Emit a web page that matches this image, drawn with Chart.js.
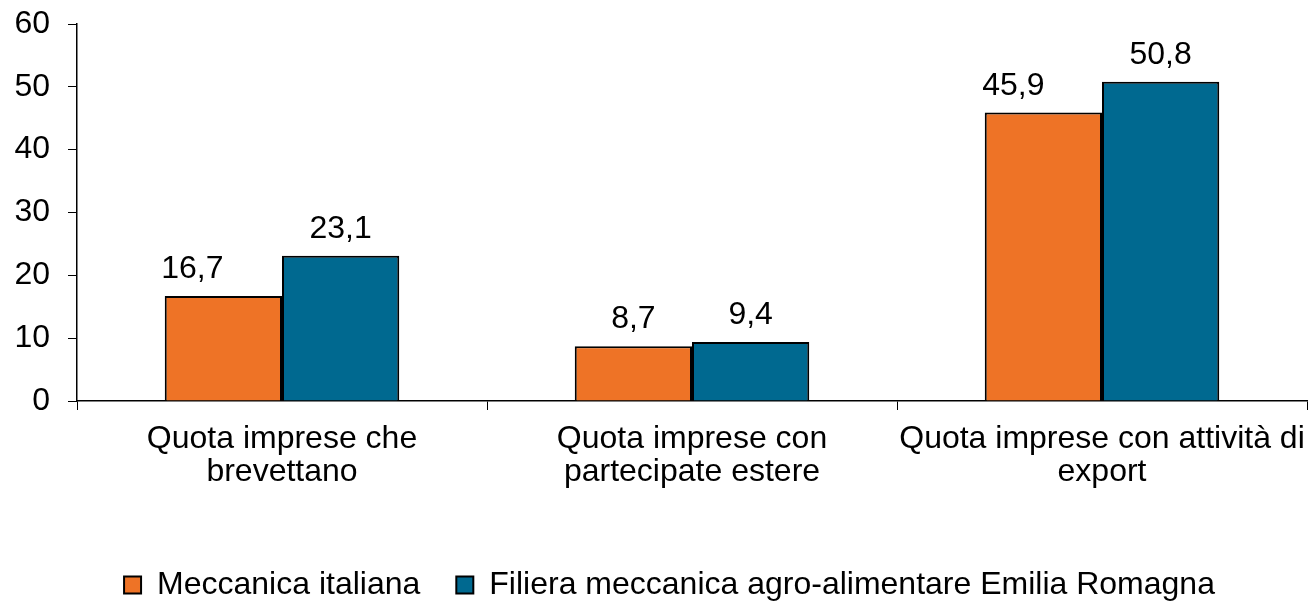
<!DOCTYPE html>
<html><head><meta charset="utf-8">
<script src="https://cdn.jsdelivr.net/npm/chart.js@4/dist/chart.umd.min.js"></script>
<style>html,body{margin:0;padding:0;background:#fff}#w{width:1308px;height:605px}</style>
</head><body><div id="w"><canvas id="c"></canvas></div>
<script>
const categories = [["Quota imprese che","brevettano"],["Quota imprese con","partecipate estere"],["Quota imprese con attività di","export"]];
const seriesNames = ["Meccanica italiana","Filiera meccanica agro-alimentare Emilia Romagna"];
const meccanicaItaliana = [16.7, 8.7, 45.9];
const filieraER = [23.1, 9.4, 50.8];
const yTicks = [0,10,20,30,40,50,60];

const FONT = "'Liberation Sans', Arial, sans-serif";
Chart.defaults.font.family = FONT;
Chart.defaults.color = '#000';

const labelsPlugin = {
  id:'vals',
  afterLayout(chart){
    if(chart.legend){ chart.legend.left += 16; chart.legend.right += 16; }
  },
  afterDatasetsDraw(chart, args, opts){
    const ctx = chart.ctx;
    const shifts = (opts && opts.shifts) || {};
    ctx.save();
    ctx.font = "32px " + FONT;
    ctx.fillStyle = '#000';
    ctx.textAlign = 'center';
    ctx.textBaseline = 'alphabetic';
    chart.data.datasets.forEach((ds,i)=>{
      chart.getDatasetMeta(i).data.forEach((bar,j)=>{
        const dx = (shifts[i] && shifts[i][j]) || 0;
        ctx.fillText(String(ds.data[j]).replace('.',','), bar.x + dx, bar.y - 18);
      });
    });
    ctx.restore();
  }
};

new Chart(document.getElementById('c'),{
  type:'bar',
  data:{
    labels:categories,
    datasets:[
      {label:seriesNames[0],data:meccanicaItaliana,backgroundColor:'#EE7326',borderColor:'#000',borderWidth:2},
      {label:seriesNames[1],data:filieraER,backgroundColor:'#006990',borderColor:'#000',borderWidth:2}
    ]
  },
  options:{
    responsive:true,maintainAspectRatio:false,animation:false,
    layout:{padding:{top:24,right:1,bottom:-6,left:0}},
    datasets:{bar:{categoryPercentage:0.572,barPercentage:1}},
    plugins:{
      legend:{position:'bottom',labels:{font:{size:32},color:'#000',boxWidth:17,boxHeight:17,padding:36}},
      tooltip:{enabled:false},
      vals:{shifts:{0:[-31,0,-30]}}
    },
    scales:{
      x:{
        grid:{display:true,drawOnChartArea:false,color:'#000',tickLength:9,offset:true},
        border:{color:'#000',width:1.5},
        ticks:{font:{size:32,lineHeight:1.03},color:'#000',padding:13,maxRotation:0,autoSkip:false},
        afterFit(s){s.height=132;s.paddingLeft=0;s.paddingRight=0;}
      },
      y:{
        min:0,max:60,
        afterBuildTicks(s){s.ticks=yTicks.map(v=>({value:v}));},
        grid:{display:true,drawOnChartArea:false,color:'#000',tickLength:9},
        border:{color:'#000',width:1.5},
        ticks:{font:{size:32},color:'#000',padding:18},
        afterFit(s){s.width=77;s.paddingTop=0;s.paddingBottom=0;}
      }
    }
  },
  plugins:[labelsPlugin]
});
</script></body></html>
